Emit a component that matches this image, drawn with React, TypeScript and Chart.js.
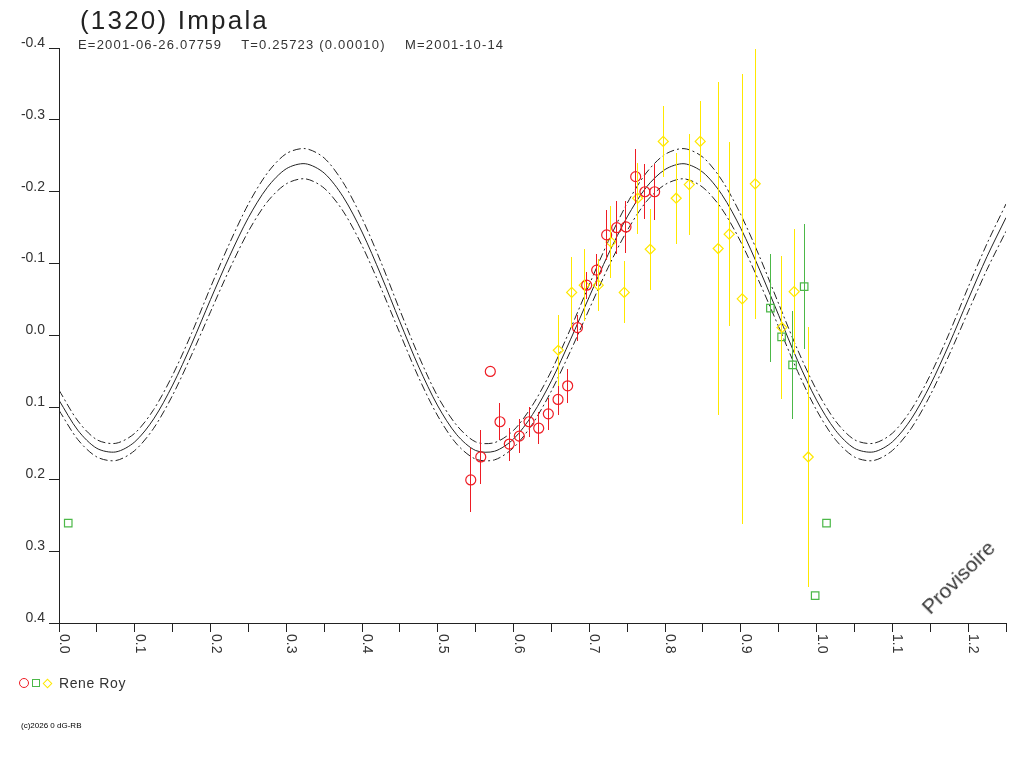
import React, { useEffect, useRef } from "react";
import { Chart, registerables } from "chart.js";

Chart.register(...registerables);

// fitted lightcurve, every 0.025 in phase
const curvePhases = [
  0, 0.025, 0.05, 0.075, 0.1, 0.125, 0.15, 0.175, 0.2, 0.225, 0.25, 0.275, 0.3,
  0.325, 0.35, 0.375, 0.4, 0.425, 0.45, 0.475, 0.5, 0.525, 0.55, 0.575, 0.6,
  0.625, 0.65, 0.675, 0.7, 0.725, 0.75, 0.775, 0.8, 0.825, 0.85, 0.875, 0.9,
  0.925, 0.95, 0.975, 1.0, 1.025, 1.05, 1.075, 1.1, 1.125, 1.15, 1.175, 1.2,
  1.225, 1.25,
];
const curveMid = [
  0.09, 0.132, 0.157, 0.162, 0.148, 0.116, 0.069, 0.012, -0.05, -0.11, -0.164,
  -0.206, -0.232, -0.239, -0.226, -0.193, -0.144, -0.084, -0.019, 0.044, 0.098,
  0.138, 0.16, 0.161, 0.144, 0.11, 0.063, 0.006, -0.054, -0.113, -0.165, -0.206,
  -0.231, -0.239, -0.227, -0.196, -0.149, -0.091, -0.028, 0.035, 0.09, 0.132,
  0.157, 0.162, 0.148, 0.116, 0.069, 0.012, -0.05, -0.11, -0.164,
];
const curveUpper = [
  0.076, 0.119, 0.145, 0.15, 0.136, 0.103, 0.055, -0.003, -0.067, -0.128, -0.183,
  -0.226, -0.253, -0.26, -0.247, -0.213, -0.163, -0.102, -0.035, 0.029, 0.085,
  0.125, 0.148, 0.149, 0.132, 0.097, 0.049, -0.009, -0.071, -0.131, -0.184,
  -0.226, -0.252, -0.26, -0.248, -0.216, -0.168, -0.109, -0.044, 0.02, 0.076,
  0.119, 0.145, 0.15, 0.136, 0.103, 0.055, -0.003, -0.067, -0.128, -0.183,
];
const curveLower = [
  0.104, 0.145, 0.169, 0.174, 0.16, 0.129, 0.083, 0.027, -0.033, -0.092, -0.145,
  -0.186, -0.211, -0.218, -0.205, -0.173, -0.125, -0.066, -0.003, 0.059, 0.112,
  0.151, 0.172, 0.173, 0.156, 0.123, 0.077, 0.022, -0.037, -0.095, -0.146,
  -0.186, -0.21, -0.218, -0.206, -0.176, -0.13, -0.073, -0.012, 0.05, 0.104,
  0.145, 0.169, 0.174, 0.16, 0.129, 0.083, 0.027, -0.033, -0.092, -0.145,
];

// observations (red circles)
const redPhase = [
  0.5435, 0.5567, 0.5693, 0.5821, 0.5944, 0.6076, 0.6204, 0.6332, 0.6459,
  0.6587, 0.6714, 0.6844, 0.6965, 0.7097, 0.7229, 0.7361, 0.7484, 0.7612,
  0.7734, 0.7862,
];
const redMag = [
  0.201, 0.169, 0.05, 0.12, 0.151, 0.14, 0.12, 0.129, 0.109, 0.089, 0.07, -0.011,
  -0.07, -0.091, -0.14, -0.15, -0.151, -0.221, -0.2, -0.2,
];
const redErr = [
  0.045, 0.038, 0, 0.026, 0.023, 0.024, 0.021, 0.022, 0.022, 0.022, 0.024, 0.018,
  0.019, 0.022, 0.035, 0.037, 0.036, 0.038, 0.038, 0.039,
];

// observations (yellow diamonds)
const yellowPhase = [
  0.659, 0.6767, 0.6933, 0.7118, 0.7286, 0.7461, 0.7638, 0.7804, 0.7976, 0.8147,
  0.8319, 0.8464, 0.8701, 0.8846, 0.9018, 0.919, 0.9542, 0.9704, 0.989,
];
const yellowMag = [
  0.0205, -0.06, -0.07, -0.07, -0.13, -0.06, -0.191, -0.12, -0.27, -0.191, -0.21,
  -0.27, -0.121, -0.141, -0.051, -0.211, -0.011, -0.061, 0.169,
];
const yellowErr = [
  0.0495, 0.049, 0.05, 0.036, 0.05, 0.043, 0.0495, 0.0565, 0.049, 0.063, 0.07,
  0.056, 0.2316, 0.128, 0.3135, 0.188, 0.1, 0.087, 0.181,
];

// observations (green squares)
const greenPhase = [0.0122, 0.939, 0.9538, 0.9683, 0.9836, 0.9981, 1.0131];
const greenMag = [0.261, -0.038, 0.002, 0.041, -0.068, 0.362, 0.261];
const greenErr = [0, 0.0747, 0, 0.075, 0.0865, 0, 0];

const xTickValues = [0, 0.1, 0.2, 0.3, 0.4, 0.5, 0.6, 0.7, 0.8, 0.9, 1.0, 1.1, 1.2];
const xTickLabels = ["0.0", "0.1", "0.2", "0.3", "0.4", "0.5", "0.6", "0.7", "0.8", "0.9", "1.0", "1.1", "1.2"];
const yTickValues = [-0.4, -0.3, -0.2, -0.1, 0, 0.1, 0.2, 0.3, 0.4];
const yTickLabels = ["-0.4", "-0.3", "-0.2", "-0.1", "0.0", "0.1", "0.2", "0.3", "0.4"];

const RED = "#ee1c24";
const YELLOW = "#ffe800";
const GREEN = "#4cb848";
const INK = "#222";
const FONT = "'Liberation Sans', Arial, sans-serif";

const toPoints = (xs: number[], ys: number[]) => xs.map((x, i) => ({ x, y: ys[i] }));

const errorSets = [
  { xs: redPhase, ys: redMag, es: redErr, color: RED },
  { xs: greenPhase, ys: greenMag, es: greenErr, color: GREEN },
  { xs: yellowPhase, ys: yellowMag, es: yellowErr, color: YELLOW },
];

// vertical error bars, snapped to whole pixels so the thin lines stay crisp
const errorBars = {
  id: "errorBars",
  afterDatasetsDraw(chart: any) {
    const { ctx, chartArea } = chart;
    const { x, y } = chart.scales;
    ctx.save();
    ctx.beginPath();
    ctx.rect(chartArea.left, chartArea.top, chartArea.right - chartArea.left, chartArea.bottom - chartArea.top);
    ctx.clip();
    ctx.lineWidth = 1;
    errorSets.forEach(({ xs, ys, es, color }) => {
      ctx.strokeStyle = color;
      xs.forEach((p, i) => {
        if (!es[i]) return;
        const px = Math.floor(x.getPixelForValue(p)) + 0.5;
        ctx.beginPath();
        ctx.moveTo(px, Math.round(y.getPixelForValue(ys[i] - es[i])));
        ctx.lineTo(px, Math.round(y.getPixelForValue(ys[i] + es[i])));
        ctx.stroke();
      });
    });
    ctx.restore();
  },
};

// x tick labels, written top to bottom like the original
const phaseLabels = {
  id: "phaseLabels",
  afterDraw(chart: any) {
    const { ctx, chartArea } = chart;
    const x = chart.scales.x;
    ctx.save();
    ctx.fillStyle = "#333";
    ctx.font = `14px ${FONT}`;
    ctx.textAlign = "left";
    ctx.textBaseline = "alphabetic";
    xTickValues.forEach((v, i) => {
      ctx.save();
      ctx.translate(x.getPixelForValue(v) + 1, chartArea.bottom + 11);
      ctx.rotate(Math.PI / 2);
      ctx.fillText(xTickLabels[i], 0, 0);
      ctx.restore();
    });
    ctx.restore();
  },
};

const LightCurve: React.FC = () => {
  const chartRef = useRef<HTMLCanvasElement | null>(null);
  const chartInstance = useRef<Chart | null>(null);

  useEffect(() => {
    if (!chartRef.current) return;
    if (chartInstance.current) chartInstance.current.destroy();

    const curve = (ys: number[], dash: number[]) => ({
      type: "line" as const,
      data: toPoints(curvePhases, ys),
      borderColor: INK,
      borderWidth: 1,
      borderDash: dash,
      pointRadius: 0,
      tension: 0.3,
      fill: false,
      order: 3,
    });
    const marks = (xs: number[], ys: number[], color: string, style: string, r: number) => ({
      type: "scatter" as const,
      data: toPoints(xs, ys),
      pointStyle: style,
      pointRadius: r,
      pointBorderColor: color,
      pointBackgroundColor: "rgba(0,0,0,0)",
      pointBorderWidth: 1.2,
      order: 1,
    });

    chartInstance.current = new Chart(chartRef.current, {
      type: "scatter",
      data: {
        datasets: [
          marks(redPhase, redMag, RED, "circle", 5),
          marks(greenPhase, greenMag, GREEN, "rect", 5.3),
          marks(yellowPhase, yellowMag, YELLOW, "rectRot", 5),
          curve(curveMid, []),
          curve(curveUpper, [8, 3, 2, 3]),
          curve(curveLower, [8, 3, 2, 3]),
        ] as any,
      },
      options: {
        responsive: false,
        animation: false,
        events: [],
        layout: { padding: { left: 0, top: 48, right: 18, bottom: 145 } },
        plugins: { legend: { display: false }, tooltip: { enabled: false } },
        scales: {
          x: {
            type: "linear",
            min: 0,
            max: 1.25,
            ticks: { display: false, stepSize: 0.05 },
            grid: { drawOnChartArea: false, drawTicks: true, tickLength: 9, color: INK },
            border: { color: INK },
            afterFit: (s: any) => {
              s.height = 0;
            },
          },
          y: {
            type: "linear",
            reverse: true,
            min: -0.4,
            max: 0.4,
            ticks: {
              stepSize: 0.1,
              padding: 4,
              labelOffset: -5,
              color: "#333",
              font: { family: FONT, size: 14 },
              callback: (value: any) => {
                const i = yTickValues.findIndex((t) => Math.abs(t - Number(value)) < 1e-6);
                return i >= 0 ? yTickLabels[i] : "";
              },
            },
            grid: { drawOnChartArea: false, drawTicks: true, tickLength: 10, color: INK },
            border: { color: INK },
            afterFit: (s: any) => {
              s.width = 59;
            },
          },
        },
      } as any,
      plugins: [errorBars, phaseLabels],
    });

    return () => {
      if (chartInstance.current) {
        chartInstance.current.destroy();
        chartInstance.current = null;
      }
    };
  }, []);

  const text = (extra: React.CSSProperties): React.CSSProperties => ({
    position: "absolute",
    fontFamily: FONT,
    color: "#333",
    whiteSpace: "pre",
    lineHeight: 1,
    ...extra,
  });

  return (
    <div style={{ position: "fixed", left: 0, top: 0, width: 1024, height: 768, background: "#fff" }}>
      <canvas ref={chartRef} width={1024} height={768} style={{ display: "block" }} />
      <div style={text({ left: 80, top: 7, fontSize: 26, letterSpacing: "2.2px", color: INK })}>
        (1320) Impala
      </div>
      <div style={text({ left: 78, top: 38, fontSize: 13, letterSpacing: "1.2px" })}>
        {"E=2001-06-26.07759    T=0.25723 (0.00010)    M=2001-10-14"}
      </div>
      <span
        style={{
          position: "absolute", left: 19, top: 678, width: 10, height: 10,
          boxSizing: "border-box", border: `1px solid ${RED}`, borderRadius: "50%",
        }}
      />
      <span
        style={{
          position: "absolute", left: 32, top: 679, width: 8, height: 8,
          boxSizing: "border-box", border: `1px solid ${GREEN}`,
        }}
      />
      <span
        style={{
          position: "absolute", left: 43.5, top: 679.5, width: 7, height: 7,
          boxSizing: "border-box", border: `1px solid ${YELLOW}`, transform: "rotate(45deg)",
        }}
      />
      <div style={text({ left: 59, top: 676, fontSize: 14, letterSpacing: "0.6px" })}>Rene Roy</div>
      <div style={text({ left: 21, top: 722, fontSize: 8, color: "#000" })}>(c)2026 0 dG-RB</div>
      <div
        style={text({
          left: 958, top: 577, fontSize: 21, transform: "translate(-50%, -50%) rotate(-45deg)",
        })}
      >
        Provisoire
      </div>
    </div>
  );
};

export default function App() {
  return <LightCurve />;
}
